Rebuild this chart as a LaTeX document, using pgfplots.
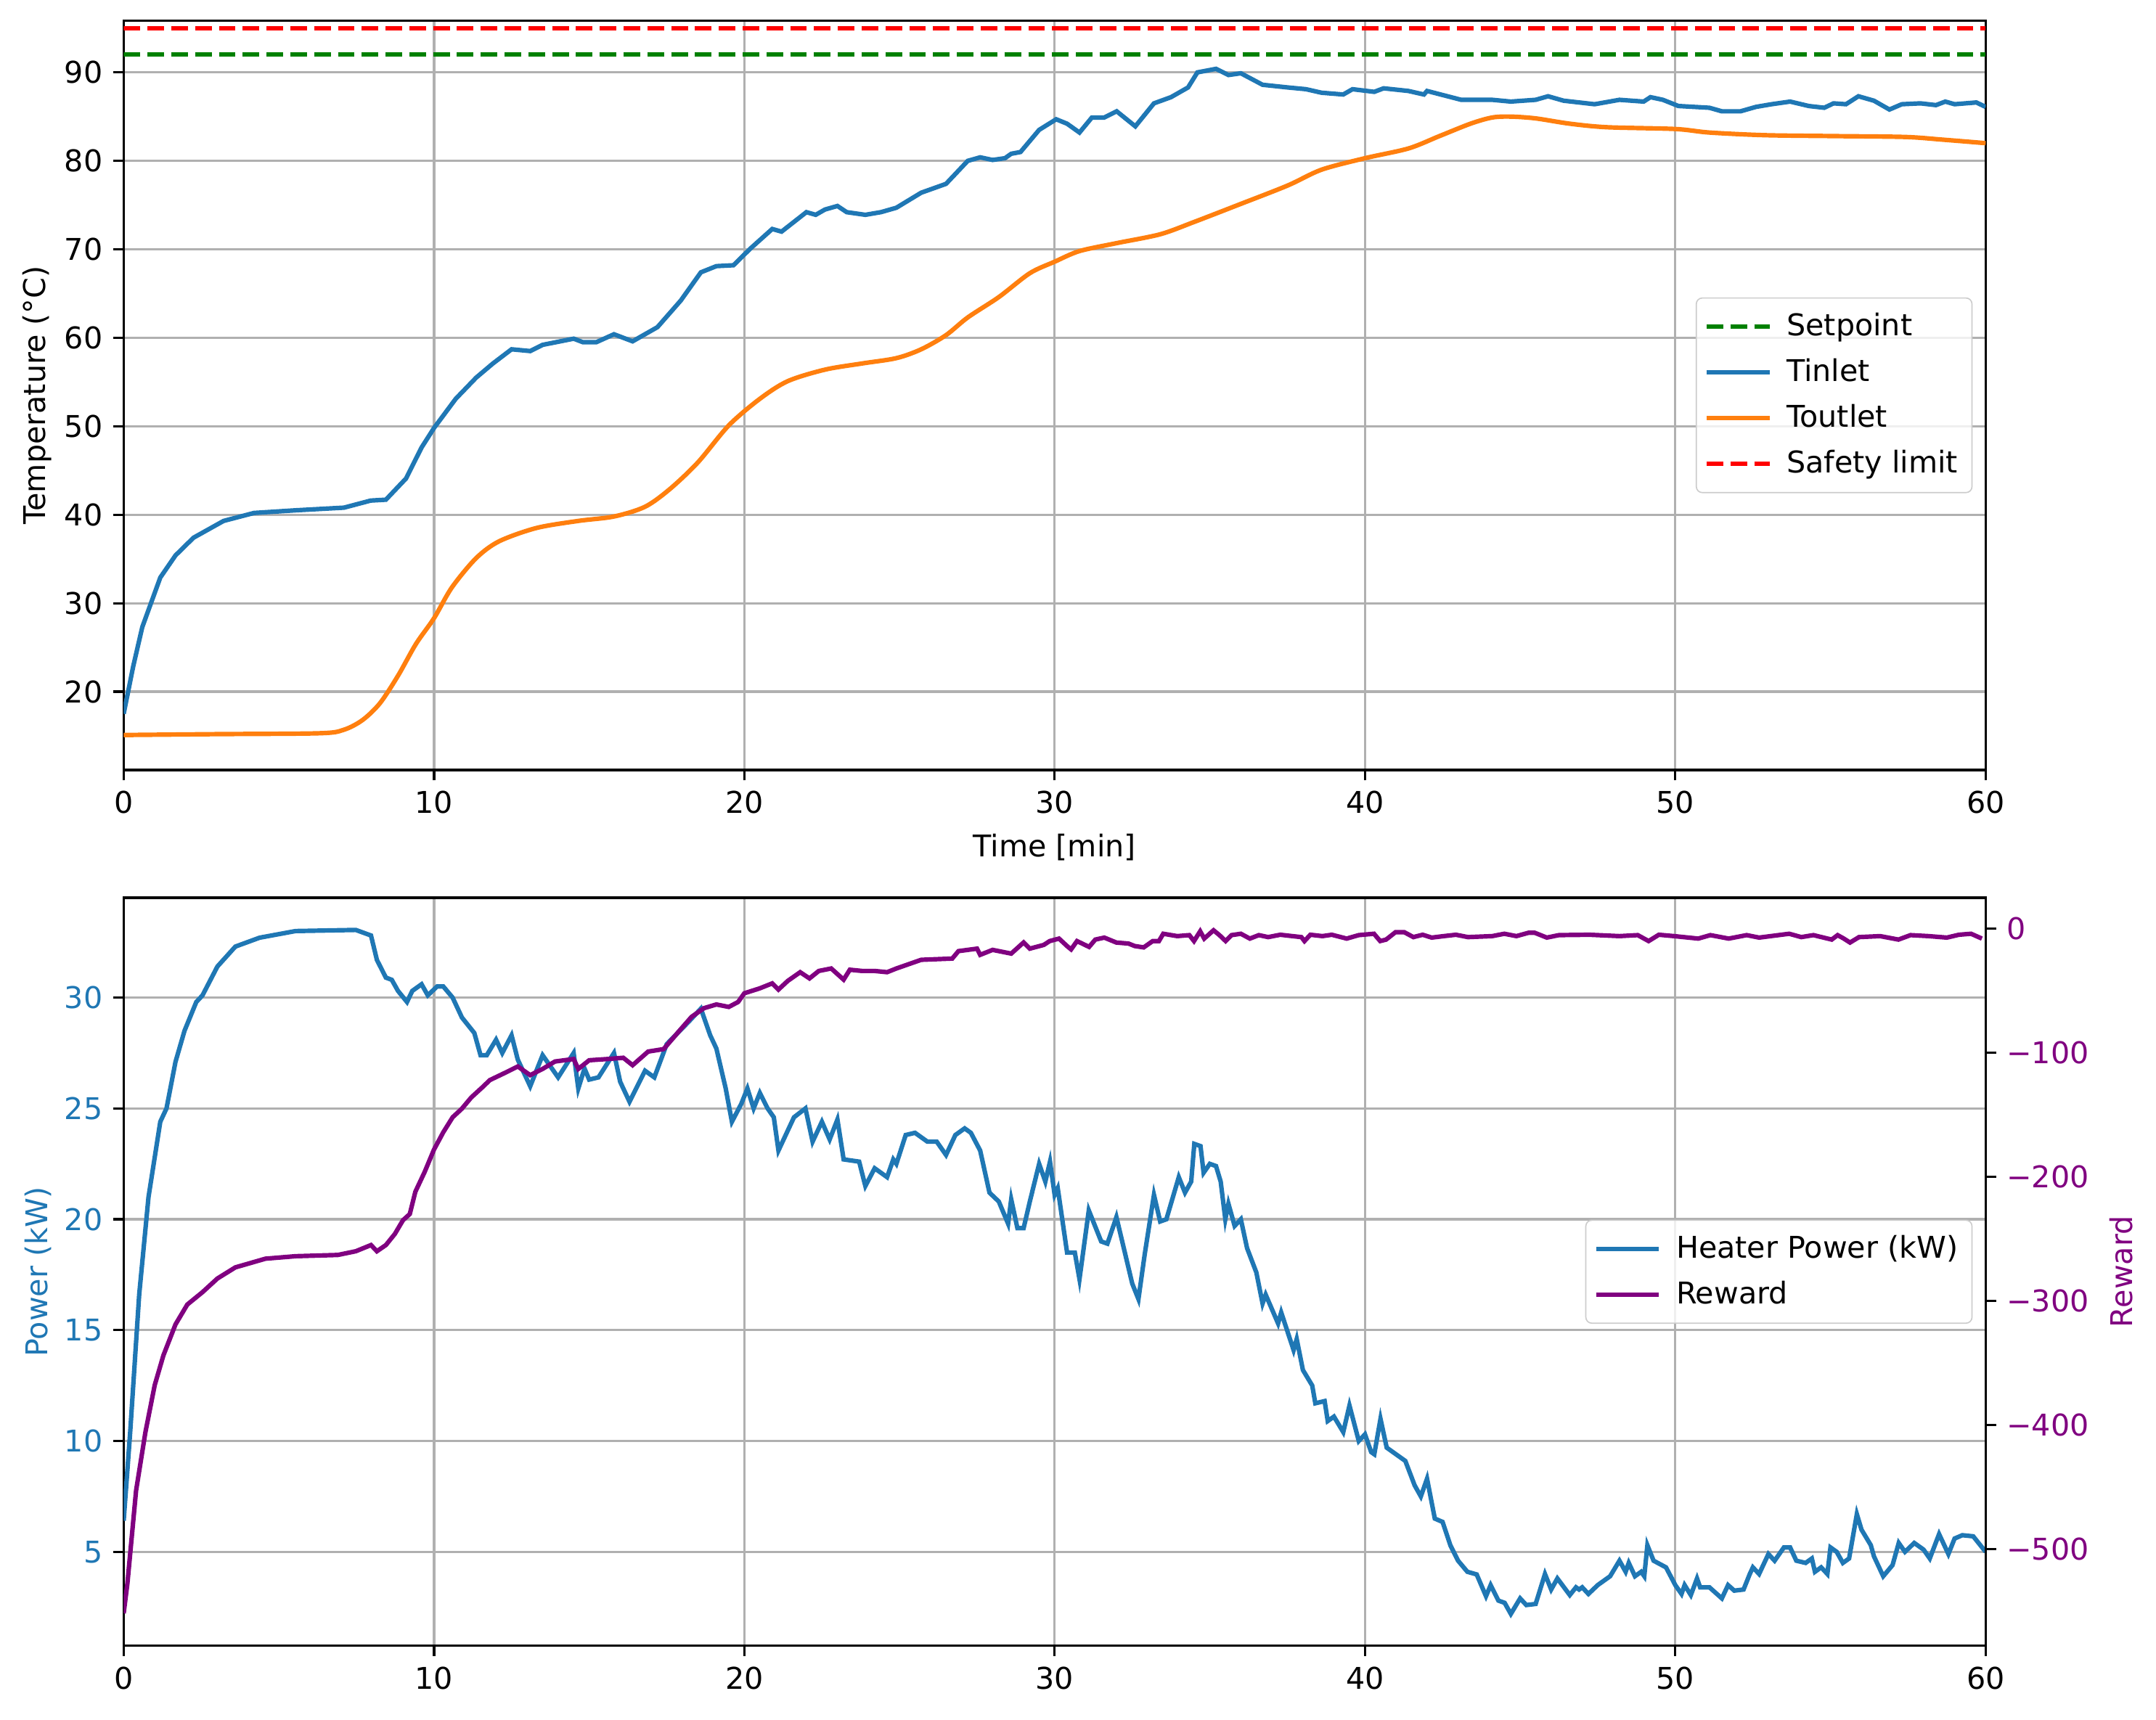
\documentclass[border=0pt]{standalone}
\usepackage{pgfplots}
\pgfplotsset{compat=1.18}
\usepackage{fontspec}
\setmainfont{DejaVu Sans}
\definecolor{C0}{HTML}{1F77B4}
\definecolor{C1}{HTML}{FF7F0E}
\definecolor{mplgreen}{HTML}{008000}
\definecolor{mplred}{HTML}{FF0000}
\definecolor{mplpurple}{HTML}{800080}
\definecolor{gridgray}{HTML}{B0B0B0}
\pgfplotsset{
  mpl/.style={
    scale only axis,
    width=621.8pt,
    xmin=0, xmax=60,
    xtick={0,10,20,30,40,50,60},
    tick align=outside,
    major tick length=3.5pt,
    every tick/.style={black, line width=0.8pt},
    axis line style={line width=0.8pt},
    grid style={gridgray, line width=0.8pt},
    /pgf/number format/assume math mode=true,
    tick label style={font=\fontsize{10pt}{12pt}\selectfont},
    label style={font=\fontsize{10pt}{12pt}\selectfont},
    legend style={font=\fontsize{10pt}{12pt}\selectfont, draw=black!20, rounded corners=2pt, fill=white, fill opacity=0.8, text opacity=1, inner xsep=2.7pt, inner ysep=3pt, row sep=2.2pt, cells={anchor=west}, /tikz/every odd column/.append style={column sep=3pt}},
    legend image code/.code={\draw[#1] (0pt,0pt) -- (21pt,0pt);},
    legend cell align=left,
  },
  dashedmpl/.style={dash pattern=on 5.55pt off 2.4pt},
}
\begin{document}
\begin{tikzpicture}
% ---------- top panel ----------
\begin{axis}[mpl,
  at={(0,0)}, anchor=south west,
  height=250.3pt,
  ymin=11.15, ymax=95.85,
  ytick={20,30,40,50,60,70,80,90},
  xtick pos=bottom, ytick pos=left,
  grid=major,
  xlabel={Time [min]},
  ylabel={Temperature (°C)},
  ylabel style={yshift=-2.6pt},
  legend style={at={(0.993,0.5)}, anchor=east},
]
\addplot[mplgreen, line width=1.5pt, dashedmpl] coordinates {(0,92) (60,92)};
\addlegendentry{Setpoint}
\addplot[C0, line width=1.5pt] coordinates {
(0,17.5) (0.31,22.9) (0.6,27.3) (0.89,30.1) (1.18,32.9) (1.67,35.4) (2.25,37.4) (3.22,39.3) (4.2,40.2) (5.54,40.5) (7.1,40.8) (7.96,41.6) (8.45,41.7) (9.1,44.1) (9.6,47.6) (10,49.8) (10.7,53.1) (11.36,55.5) (11.9,57.1) (12.5,58.7) (13.1,58.5) (13.5,59.2) (14.5,59.9) (14.8,59.5) (15.23,59.5) (15.8,60.4) (16.4,59.6) (17.2,61.2) (17.95,64.2) (18.6,67.4) (19.1,68.1) (19.65,68.2) (20.2,70.1) (20.9,72.3) (21.2,72.0) (22.0,74.2) (22.3,73.9) (22.6,74.5) (23.0,74.9) (23.3,74.2) (23.9,73.9) (24.4,74.2) (24.9,74.7) (25.7,76.4) (26.5,77.4) (27.2,80.0) (27.6,80.4) (28.0,80.1) (28.4,80.3) (28.6,80.8) (28.9,81.0) (29.5,83.5) (30.05,84.7) (30.4,84.2) (30.8,83.2) (31.2,84.9) (31.6,84.9) (32.0,85.6) (32.6,83.9) (33.2,86.5) (33.75,87.2) (34.3,88.3) (34.6,90.0) (35.2,90.4) (35.6,89.7) (36.0,89.9) (36.7,88.6) (37.5,88.3) (38.1,88.1) (38.6,87.7) (39.3,87.5) (39.6,88.1) (40.3,87.8) (40.6,88.2) (41.4,87.9) (41.9,87.5) (42.0,87.9) (43.1,86.9) (44.1,86.9) (44.7,86.7) (45.5,86.9) (45.9,87.3) (46.4,86.8) (47.4,86.4) (48.2,86.9) (48.98,86.7) (49.2,87.2) (49.6,86.9) (50.1,86.2) (50.6,86.1) (51.1,86.0) (51.5,85.6) (52.1,85.6) (52.6,86.1) (53.1,86.4) (53.7,86.7) (54.3,86.2) (54.8,86.0) (55.1,86.5) (55.5,86.4) (55.9,87.3) (56.4,86.8) (56.9,85.8) (57.3,86.4) (57.9,86.5) (58.4,86.3) (58.7,86.7) (59.0,86.4) (59.7,86.6) (60,86.1)
};
\addlegendentry{Tinlet}
\addplot[C1, line width=1.5pt, smooth] coordinates {
(0,15.1) (3,15.2) (6.32,15.3) (7.1,15.7) (7.7,16.8) (8.26,18.7) (8.84,21.8) (9.42,25.4) (10.0,28.3) (10.58,31.8) (11.36,35.1) (12.1,37.0) (13.3,38.5) (14.65,39.3) (15.8,39.8) (16.8,40.9) (17.6,42.9) (18.5,45.9) (19.5,50.1) (20.5,53.1) (21.4,55.1) (22.6,56.4) (23.8,57.1) (24.9,57.7) (25.7,58.7) (26.5,60.3) (27.2,62.3) (28.2,64.6) (29.2,67.3) (30.0,68.6) (30.8,69.8) (32.0,70.7) (33.4,71.7) (34.5,73.1) (35.9,75.0) (37.5,77.2) (38.6,79.0) (40.0,80.3) (41.4,81.4) (42.4,82.8) (43.4,84.2) (44.1,84.9) (44.7,85.0) (45.5,84.8) (46.6,84.2) (47.8,83.8) (50,83.6) (51.1,83.2) (52.9,82.9) (55.1,82.8) (57.4,82.7) (58.6,82.4) (60,82.0)
};
\addlegendentry{Toutlet}
\addplot[mplred, line width=1.5pt, dashedmpl] coordinates {(0,95) (60,95)};
\addlegendentry{Safety limit}
\end{axis}
% ---------- bottom panel ----------
\begin{axis}[mpl,
  at={(0,-42.7pt)}, anchor=north west,
  height=249.8pt,
  ymin=0.77, ymax=34.5,
  ytick={5,10,15,20,25,30},
  xtick pos=bottom, ytick pos=left,
  grid=major,
  ylabel={Power (kW)},
  yticklabel style={text=C0},
  ylabel style={text=C0, yshift=-2.6pt},
]
\addplot[C0, line width=1.5pt] coordinates {
(0,6.4) (0.21,10.4) (0.5,16.6) (0.8,21.0) (1.18,24.4) (1.38,25.0) (1.67,27.1) (1.96,28.5) (2.34,29.8) (2.54,30.1) (3.02,31.4) (3.6,32.3) (4.38,32.7) (5.54,33.0) (7.48,33.05) (7.97,32.8) (8.16,31.7) (8.45,30.9) (8.64,30.8) (8.84,30.3) (9.13,29.8) (9.3,30.3) (9.6,30.6) (9.8,30.1) (10.1,30.5) (10.3,30.5) (10.6,30.0) (10.9,29.1) (11.3,28.4) (11.5,27.4) (11.7,27.4) (12.0,28.1) (12.2,27.5) (12.5,28.3) (12.7,27.2) (13.1,26.0) (13.5,27.4) (14.0,26.4) (14.5,27.5) (14.65,25.9) (14.85,26.8) (15.0,26.3) (15.3,26.4) (15.8,27.5) (16.0,26.2) (16.3,25.3) (16.8,26.7) (17.1,26.4) (17.5,27.9) (18.2,28.9) (18.6,29.5) (18.9,28.3) (19.1,27.7) (19.4,25.9) (19.6,24.4) (19.9,25.2) (20.1,25.9) (20.3,25.0) (20.5,25.7) (20.75,25.0) (20.95,24.6) (21.1,23.1) (21.6,24.6) (21.97,25.0) (22.2,23.5) (22.5,24.4) (22.75,23.6) (23.0,24.5) (23.2,22.7) (23.7,22.6) (23.9,21.5) (24.2,22.3) (24.6,21.9) (24.8,22.7) (24.9,22.5) (25.2,23.8) (25.5,23.9) (25.9,23.5) (26.2,23.5) (26.5,22.9) (26.8,23.8) (27.1,24.1) (27.3,23.9) (27.6,23.1) (27.9,21.2) (28.2,20.8) (28.5,19.8) (28.6,20.9) (28.8,19.6) (29.0,19.6) (29.2,20.8) (29.5,22.5) (29.7,21.7) (29.85,22.6) (30.0,21.1) (30.1,21.4) (30.4,18.5) (30.65,18.5) (30.8,17.3) (31.1,20.4) (31.5,19.0) (31.7,18.9) (31.99,20.1) (32.5,17.1) (32.7,16.4) (32.9,18.4) (33.2,21.1) (33.4,19.9) (33.6,20.0) (34.0,21.9) (34.2,21.2) (34.4,21.7) (34.5,23.4) (34.7,23.3) (34.8,22.1) (35.0,22.5) (35.2,22.4) (35.35,21.7) (35.5,20.0) (35.6,20.7) (35.8,19.7) (36.0,20.0) (36.2,18.7) (36.5,17.6) (36.7,16.2) (36.8,16.6) (37.2,15.3) (37.3,15.8) (37.7,14.1) (37.8,14.6) (38.0,13.2) (38.3,12.5) (38.4,11.7) (38.7,11.8) (38.8,10.9) (39.0,11.1) (39.3,10.4) (39.5,11.6) (39.8,10.0) (40.0,10.3) (40.2,9.5) (40.3,9.4) (40.5,11.0) (40.7,9.7) (41.0,9.4) (41.3,9.1) (41.6,8.0) (41.8,7.5) (42.0,8.3) (42.25,6.5) (42.5,6.35) (42.75,5.3) (43.0,4.6) (43.3,4.1) (43.6,3.98) (43.9,3.0) (44.05,3.5) (44.3,2.8) (44.5,2.7) (44.7,2.2) (45.0,2.9) (45.2,2.6) (45.5,2.65) (45.8,4.0) (46.0,3.3) (46.2,3.8) (46.6,3.05) (46.8,3.4) (46.9,3.3) (47.0,3.4) (47.2,3.1) (47.5,3.5) (47.9,3.9) (48.2,4.6) (48.4,4.1) (48.5,4.5) (48.7,3.9) (48.9,4.1) (49.0,3.9) (49.1,5.3) (49.3,4.6) (49.7,4.3) (50.0,3.5) (50.2,3.1) (50.3,3.5) (50.5,3.05) (50.7,3.8) (50.8,3.4) (51.1,3.4) (51.5,2.9) (51.7,3.5) (51.9,3.25) (52.2,3.3) (52.4,4.0) (52.5,4.3) (52.7,4.0) (53.0,4.9) (53.2,4.6) (53.5,5.2) (53.7,5.2) (53.9,4.6) (54.2,4.5) (54.4,4.7) (54.5,4.1) (54.7,4.3) (54.9,4.0) (55.0,5.2) (55.2,5.0) (55.4,4.5) (55.6,4.7) (55.85,6.7) (56.0,6.0) (56.3,5.3) (56.4,4.8) (56.7,3.9) (57.0,4.4) (57.2,5.4) (57.4,5.0) (57.7,5.4) (58.0,5.1) (58.2,4.7) (58.5,5.8) (58.8,4.9) (59.0,5.6) (59.25,5.75) (59.6,5.7) (60,5.0)
};
\end{axis}
\begin{axis}[mpl,
  at={(0,-42.7pt)}, anchor=north west,
  height=249.8pt,
  ymin=-578, ymax=25,
  axis x line=none,
  axis y line*=right,
  ytick={-500,-400,-300,-200,-100,0},
  yticklabels={−500,−400,−300,−200,−100,0},
  yticklabel style={text=mplpurple},
  ylabel={Reward},
  ylabel style={text=mplpurple},
  legend style={at={(0.993,0.5)}, anchor=east},
]
\addlegendimage{C0, line width=1.5pt}
\addlegendentry{Heater Power (kW)}
\addplot[mplpurple, line width=1.5pt] coordinates {
(0,-552) (0.12,-528) (0.4,-453) (0.7,-406) (1.0,-368) (1.28,-344) (1.67,-319) (2.05,-303) (2.54,-293) (3.02,-282) (3.6,-273) (4.57,-266) (5.54,-264) (6.9,-263) (7.48,-260) (7.97,-255) (8.16,-260) (8.45,-255) (8.74,-246) (9.0,-235) (9.22,-230) (9.4,-212) (9.7,-196) (10.0,-178) (10.3,-164) (10.6,-152) (10.9,-145) (11.2,-136) (11.55,-128) (11.8,-122) (12.3,-116) (12.7,-111) (13.1,-118) (13.5,-113) (13.9,-107) (14.5,-105) (14.65,-113) (15.0,-106) (15.6,-105) (16.1,-104) (16.4,-110) (16.9,-99) (17.4,-97) (17.95,-81) (18.3,-71) (18.7,-64) (19.1,-61) (19.5,-63) (19.8,-59) (20.0,-52) (20.5,-48) (20.9,-44) (21.1,-49) (21.4,-42) (21.8,-35) (22.1,-40) (22.4,-34) (22.8,-32) (23.2,-41) (23.4,-33) (23.8,-34) (24.2,-34) (24.6,-35) (24.9,-32) (25.7,-25) (26.7,-24) (26.9,-18) (27.5,-16) (27.6,-21) (28.0,-17) (28.6,-20) (29.0,-11) (29.2,-16) (29.65,-13)
(29.84,-9.9) (30.14,-7.9) (30.43,-14.6) (30.53,-16.6) (30.72,-9.9) (31.11,-14.6) (31.31,-8.7) (31.6,-7.1) (31.99,-11.1) (32.38,-11.9) (32.58,-13.9) (32.87,-15.0) (33.16,-9.9) (33.36,-9.9) (33.5,-4.0) (33.95,-5.9) (34.34,-5.1) (34.49,-9.9) (34.69,-2.0) (34.82,-7.9) (35.12,-1.2) (35.31,-5.1) (35.51,-9.9) (35.7,-5.1) (36.0,-4.0) (36.29,-7.9) (36.58,-5.1) (36.88,-6.7) (37.27,-4.8) (37.66,-5.9) (37.95,-6.7) (38.05,-9.9) (38.24,-4.8) (38.63,-5.9) (38.93,-4.8) (39.41,-7.9) (39.8,-5.1) (40.29,-4.0) (40.49,-9.9) (40.68,-8.7) (40.98,-2.8) (41.27,-2.8) (41.56,-6.7) (41.86,-4.8) (42.15,-7.1) (42.54,-5.9) (42.93,-4.8) (43.32,-6.7) (44.1,-5.9) (44.49,-4.0) (44.88,-5.9) (45.27,-3.2) (45.47,-3.2) (45.86,-7.1) (46.25,-5.1) (47.23,-4.8) (48.2,-5.9) (48.79,-5.1) (49.14,-9.9) (49.47,-4.8) (49.96,-5.9) (50.74,-7.9) (51.13,-5.1) (51.72,-7.9) (52.3,-5.1) (52.7,-7.1) (53.67,-4.0) (54.06,-6.7) (54.45,-5.1) (55.04,-8.7) (55.23,-5.1) (55.43,-7.9) (55.63,-11.1) (55.92,-6.7) (56.6,-5.9) (57.19,-8.7) (57.58,-5.1) (58.16,-5.9) (58.75,-7.1) (59.14,-4.8) (59.53,-4.0) (59.88,-7.9)
};
\addlegendentry{Reward}
\end{axis}
\pgfresetboundingbox
\path (-41.3pt,-317.3pt) rectangle (678.7pt,257.2pt);
\end{tikzpicture}
\end{document}
